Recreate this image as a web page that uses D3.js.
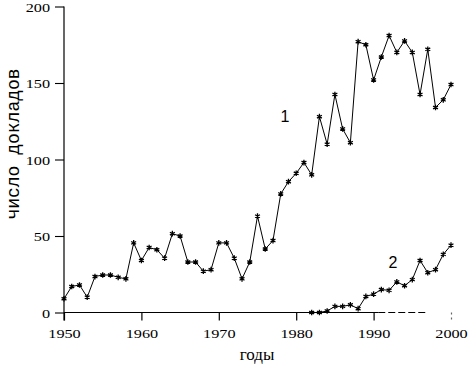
<!DOCTYPE html>
<html>
<head>
<meta charset="utf-8">
<script src="https://cdn.jsdelivr.net/npm/d3@7"></script>
<style>
  body { margin: 0; background: #fff; }
</style>
</head>
<body>
<div id="chart"></div>
<script>
var width = 476,
    height = 368;

// годы и число докладов
var years1 = [1950, 1951, 1952, 1953, 1954, 1955, 1956, 1957, 1958, 1959,
              1960, 1961, 1962, 1963, 1964, 1965, 1966, 1967, 1968, 1969,
              1970, 1971, 1972, 1973, 1974, 1975, 1976, 1977, 1978, 1979,
              1980, 1981, 1982, 1983, 1984, 1985, 1986, 1987, 1988, 1989,
              1990, 1991, 1992, 1993, 1994, 1995, 1996, 1997, 1998, 1999, 2000];
var series1 = [9, 17, 18, 10, 23.5, 24.5, 24.5, 23, 22, 45.5,
               34, 42.5, 41, 35.5, 51.5, 50, 33, 33, 27, 28,
               45.5, 45.5, 35.5, 22, 33, 63, 41.5, 47, 77.5, 85.5,
               91, 98, 90, 128, 110, 142.5, 120, 111, 177, 175,
               152, 167, 181, 170, 177.5, 170, 142.5, 172, 134, 139, 149];

var years2 = [1982, 1983, 1984, 1985, 1986, 1987, 1988, 1989, 1990, 1991,
              1992, 1993, 1994, 1995, 1996, 1997, 1998, 1999, 2000];
var series2 = [0, 0, 1, 4, 4, 5, 2.5, 10.5, 12, 15,
               14.5, 20, 17.5, 21.5, 34, 26, 28, 38, 44];

var xTicks = [1950, 1960, 1970, 1980, 1990, 2000];
var yTicks = [0, 50, 100, 150, 200];

var svg = d3.select("#chart").append("svg")
    .attr("width", width)
    .attr("height", height);

var x = d3.scaleLinear().domain([1950, 2000]).range([64, 451]);
var y = d3.scaleLinear().domain([0, 200]).range([312.5, 6.5]);

var tickFont = "Liberation Serif, serif";
var stretch = 1.25; // цифры на оригинале широкие

// ось Y
var yAxis = svg.append("g")
    .attr("transform", "translate(" + x(1950) + ",0)")
    .call(d3.axisLeft(y).tickValues(yTicks).tickSize(9).tickPadding(5).tickSizeOuter(0))
    .attr("font-family", tickFont)
    .attr("font-size", 13);
yAxis.select(".domain").remove();
yAxis.append("line")
    .attr("x1", 0).attr("x2", 0)
    .attr("y1", y(200)).attr("y2", y(0) + 8)
    .attr("stroke", "#000").attr("stroke-width", 1.2);
yAxis.selectAll(".tick line").attr("stroke-width", 1.1);
yAxis.selectAll("text")
    .attr("fill", "#000")
    .attr("x", -14 / stretch)
    .attr("dy", "0.35em")
    .attr("transform", "scale(" + stretch + ",1)");

// ось X
var xAxis = svg.append("g")
    .attr("transform", "translate(0," + y(0) + ")")
    .call(d3.axisBottom(x).tickValues(xTicks).tickSize(8).tickPadding(8).tickSizeOuter(0)
        .tickFormat(d3.format("d")))
    .attr("font-family", tickFont)
    .attr("font-size", 13);
xAxis.select(".domain").remove();
xAxis.append("line")
    .attr("x1", x(1950)).attr("x2", x(1990.6))
    .attr("stroke", "#000").attr("stroke-width", 1.2);
xAxis.append("line")
    .attr("x1", x(1990.6)).attr("x2", x(1996.9))
    .attr("stroke", "#000").attr("stroke-width", 1.2)
    .attr("stroke-dasharray", "7,3");
xAxis.selectAll(".tick line").attr("stroke-width", 1.2);
xAxis.selectAll(".tick")
    .filter(function(d) { return d === 2000; })
    .select("line")
    .attr("stroke", "#666")
    .attr("stroke-dasharray", "2,3");
xAxis.selectAll("text")
    .attr("fill", "#000")
    .attr("transform", "scale(" + stretch + ",1)");

// подписи осей
svg.append("text")
    .attr("x", 257)
    .attr("y", 360)
    .attr("text-anchor", "middle")
    .attr("font-family", tickFont)
    .attr("font-size", 17)
    .text("годы");

svg.append("text")
    .attr("transform", "translate(19,144) rotate(-90)")
    .attr("text-anchor", "middle")
    .attr("font-family", "Liberation Mono, monospace")
    .attr("font-size", 18)
    .text("число докладов");

// линии
var line = d3.line()
    .x(function(d) { return x(d[0]); })
    .y(function(d) { return y(d[1]); });

var data1 = d3.zip(years1, series1),
    data2 = d3.zip(years2, series2);

[data1, data2].forEach(function(data) {
    svg.append("path")
        .datum(data)
        .attr("fill", "none")
        .attr("stroke", "#000")
        .attr("stroke-width", 1)
        .attr("d", line);

    svg.selectAll(null)
        .data(data)
        .enter().append("path")
        .attr("transform", function(d) { return "translate(" + x(d[0]) + "," + y(d[1]) + ")"; })
        .attr("d", d3.symbol(d3.symbolAsterisk, 22))
        .attr("fill", "none")
        .attr("stroke", "#000")
        .attr("stroke-width", 1.3);
});

// номера кривых
svg.append("text")
    .attr("x", 285).attr("y", 122)
    .attr("text-anchor", "middle")
    .attr("font-family", "Liberation Sans, Arial, sans-serif")
    .attr("font-size", 16)
    .text("1");

svg.append("text")
    .attr("x", 393).attr("y", 268)
    .attr("text-anchor", "middle")
    .attr("font-family", "Liberation Sans, Arial, sans-serif")
    .attr("font-size", 16)
    .text("2");
</script>
</body>
</html>
